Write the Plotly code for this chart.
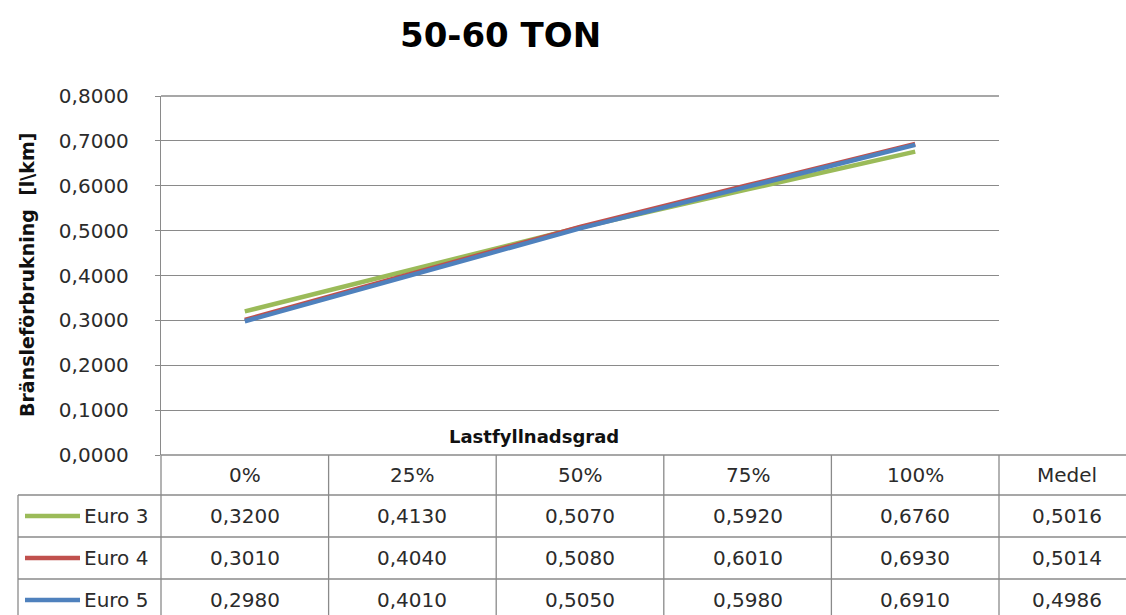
import plotly.graph_objects as go

# ---- data -------------------------------------------------------------
categories = ["0%", "25%", "50%", "75%", "100%"]
table_columns = categories + ["Medel"]
series_names = ["Euro 3", "Euro 4", "Euro 5"]
euro3 = [0.3200, 0.4130, 0.5070, 0.5920, 0.6760]
euro4 = [0.3010, 0.4040, 0.5080, 0.6010, 0.6930]
euro5 = [0.2980, 0.4010, 0.5050, 0.5980, 0.6910]
medel = [0.5016, 0.5014, 0.4986]
y_ticks = [0.0, 0.1, 0.2, 0.3, 0.4, 0.5, 0.6, 0.7, 0.8]

series_values = [euro3, euro4, euro5]
series_colors = ["#9BBB59", "#C0504D", "#4F81BD"]

# ---- page geometry (pixels) ----------------------------------------------
W, H = 1126, 615
PLOT_L, PLOT_R, PLOT_T, PLOT_B = 161, 999, 96, 455
COL_W = (PLOT_R - PLOT_L) / len(categories)
MEDEL_W = 136
KEY_L = 18
ROW_EDGES = [455, 495, 537, 579, 621]
GRID = "#8A8A8A"
TEXT = "#2B2B2B"
NUM_FONT = dict(family="DejaVu Sans", size=20, color=TEXT)
BOLD_FONT = dict(family="DejaVu Sans", size=18, color="#111111")


def px_x(p):
    return (p - PLOT_L) / (PLOT_R - PLOT_L)


def px_y(p):
    return (PLOT_B - p) / (PLOT_B - PLOT_T)


def fmt(v):
    return f"{v:.4f}".replace(".", ",")


fig = go.Figure()
for name, vals, col in zip(series_names, series_values, series_colors):
    fig.add_trace(go.Scatter(
        x=categories, y=vals, name=name, mode="lines",
        line=dict(color=col, width=4.5), hoverinfo="skip",
    ))

shapes = []
annotations = []


def hline(y, x0, x1, layer="above"):
    shapes.append(dict(type="line", xref="paper", yref="paper",
                       x0=px_x(x0), x1=px_x(x1), y0=px_y(y), y1=px_y(y),
                       line=dict(color=GRID, width=1.3), layer=layer))


def vline(x, y0, y1):
    shapes.append(dict(type="line", xref="paper", yref="paper",
                       x0=px_x(x), x1=px_x(x), y0=px_y(y0), y1=px_y(y1),
                       line=dict(color=GRID, width=1.3), layer="above"))


# top gridline of the plot area
hline(PLOT_T, PLOT_L, PLOT_R, layer="below")

# data table grid
col_edges = [PLOT_L + k * COL_W for k in range(len(categories) + 1)]
col_edges.append(col_edges[-1] + MEDEL_W)
table_right = col_edges[-1] + 60
hline(ROW_EDGES[0], PLOT_L, table_right)
for y in ROW_EDGES[1:]:
    hline(y, KEY_L, table_right)
for x in col_edges[:-1]:
    vline(x, ROW_EDGES[0], ROW_EDGES[-1])
vline(KEY_L, ROW_EDGES[1], ROW_EDGES[-1])

# header row
for k, label in enumerate(table_columns):
    cx = (col_edges[k] + col_edges[k + 1]) / 2
    cy = (ROW_EDGES[0] + ROW_EDGES[1]) / 2
    annotations.append(dict(xref="paper", yref="paper", x=px_x(cx), y=px_y(cy),
                            text=label, showarrow=False, font=NUM_FONT,
                            xanchor="center", yanchor="middle"))

# value rows with legend keys
for r, (name, vals, col) in enumerate(zip(series_names, series_values, series_colors)):
    cy = (ROW_EDGES[r + 1] + ROW_EDGES[r + 2]) / 2
    shapes.append(dict(type="line", xref="paper", yref="paper",
                       x0=px_x(25), x1=px_x(80), y0=px_y(cy), y1=px_y(cy),
                       line=dict(color=col, width=4.5)))
    annotations.append(dict(xref="paper", yref="paper", x=px_x(82), y=px_y(cy),
                            text=name, showarrow=False, font=NUM_FONT,
                            xanchor="left", yanchor="middle"))
    for k, v in enumerate(vals + [medel[r]]):
        cx = (col_edges[k] + col_edges[k + 1]) / 2
        annotations.append(dict(xref="paper", yref="paper", x=px_x(cx), y=px_y(cy),
                                text=fmt(v), showarrow=False, font=NUM_FONT,
                                xanchor="center", yanchor="middle"))

# titles
annotations.append(dict(xref="paper", yref="paper", x=px_x(500), y=px_y(35),
                        text="<b>50-60 TON</b>", showarrow=False,
                        font=dict(family="DejaVu Sans", size=34, color="#000000"),
                        xanchor="center", yanchor="middle"))
annotations.append(dict(xref="paper", yref="paper", x=px_x(534), y=px_y(436),
                        text="<b>Lastfyllnadsgrad</b>", showarrow=False,
                        font=BOLD_FONT, xanchor="center", yanchor="middle"))
annotations.append(dict(xref="paper", yref="paper", x=px_x(27), y=px_y(275),
                        text="<b>Bränsleförbrukning  [l\\km]</b>", showarrow=False,
                        textangle=-90, font=dict(BOLD_FONT, size=19),
                        xanchor="center", yanchor="middle"))

fig.update_layout(
    width=W, height=H,
    margin=dict(l=PLOT_L, r=W - PLOT_R, t=PLOT_T, b=H - PLOT_B),
    paper_bgcolor="white", plot_bgcolor="white",
    showlegend=False,
    separators=", ",
    shapes=shapes, annotations=annotations,
    xaxis=dict(type="category", categoryarray=categories, range=[-0.5, 4.5],
               showticklabels=False, showgrid=False, zeroline=False,
               showline=False, ticks="", fixedrange=True),
    yaxis=dict(range=[0, 0.8], tickvals=y_ticks, tickformat=".4f",
               showgrid=True, gridcolor=GRID, gridwidth=1.3,
               showline=True, linecolor=GRID, linewidth=1.3,
               zeroline=False, ticks="outside", ticklen=5, tickcolor=GRID,
               tickwidth=1.3, ticklabelstandoff=22,
               tickfont=NUM_FONT, fixedrange=True),
)

fig.write_html("out.html")
